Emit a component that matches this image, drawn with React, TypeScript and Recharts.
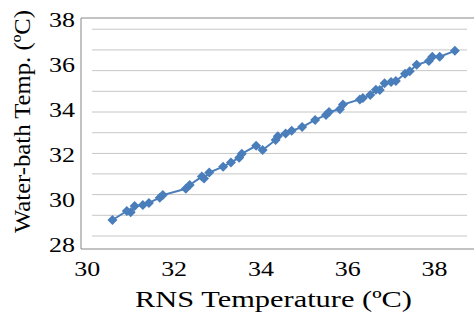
import React from 'react';
import { ComposedChart, Line, XAxis, YAxis, Label } from 'recharts';

const rnsTemp = [30.58, 30.91, 31.0, 31.09, 31.28, 31.42, 31.67, 31.74, 32.27, 32.36, 32.64, 32.69, 32.81, 33.13, 33.31, 33.5, 33.56, 33.89, 34.04, 34.34, 34.39, 34.57, 34.71, 34.95, 35.25, 35.5, 35.57, 35.82, 35.89, 36.28, 36.35, 36.52, 36.65, 36.74, 36.85, 37.0, 37.11, 37.32, 37.43, 37.59, 37.87, 37.95, 38.12, 38.47];
const waterTemp = [29.11, 29.51, 29.45, 29.73, 29.78, 29.87, 30.1, 30.22, 30.5, 30.67, 31.04, 30.96, 31.22, 31.48, 31.67, 31.88, 32.06, 32.41, 32.22, 32.67, 32.83, 32.96, 33.08, 33.24, 33.56, 33.78, 33.91, 34.03, 34.24, 34.47, 34.53, 34.67, 34.9, 34.89, 35.19, 35.24, 35.29, 35.61, 35.72, 36.01, 36.18, 36.37, 36.37, 36.63];
const xTicks = [30, 32, 34, 36, 38];
const yTicks = [28, 30, 32, 34, 36, 38];
const gridValues = [28.4, 29.32, 30.24, 31.16, 32.07, 32.99, 33.91, 34.83, 35.75, 36.67, 37.59];
const gridSpan = [30.11, 38.75];

const xTitle = 'RNS Temperature (ºC)';
const yTitle = 'Water-bath Temp. (ºC)';

const data = rnsTemp.map((x, i) => ({ x, y: waterTemp[i] }));
const gridLines = gridValues.map((g) => gridSpan.map((x) => ({ x, y: g })));

const FONT = "'Liberation Serif', 'DejaVu Serif', serif";
const BLUE = '#4a7ebb';
const AXIS = '#868686';
const X_DOMAIN = [29.855, 39.279];
const Y_DOMAIN = [27.822, 38.089];

const XTick = (props: any) => {
  const { x, payload } = props;
  return (
    <text transform={`translate(${x},275.5) scale(1.18,1)`} textAnchor="middle" fontSize={22} fill="#000" style={{ fontFamily: FONT }}>
      {payload.value}
    </text>
  );
};

const YTick = (props: any) => {
  const { y, payload } = props;
  return (
    <text transform={`translate(75,${y + 7.4}) scale(1.18,1)`} textAnchor="end" fontSize={22} fill="#000" style={{ fontFamily: FONT }}>
      {payload.value}
    </text>
  );
};

const Diamond = (props: any) => {
  const { cx, cy } = props;
  if (cx == null || cy == null) return null;
  const r = 5;
  return <path d={`M${cx},${cy - r} L${cx + r},${cy} L${cx},${cy + r} L${cx - r},${cy} Z`} fill={BLUE} stroke="none" />;
};

export default function App() {
  return (
    <div style={{ position: 'absolute', left: 0, top: 0, width: 474, height: 321, overflow: 'hidden', background: '#fff' }}>
      <ComposedChart width={500} height={321} data={data} margin={{ top: 17, right: 10, bottom: 71, left: 80 }}>
        <XAxis
          xAxisId="main"
          type="number"
          dataKey="x"
          domain={X_DOMAIN}
          allowDataOverflow
          ticks={xTicks}
          tick={<XTick />}
          tickLine={false}
          axisLine={{ stroke: AXIS, strokeWidth: 1 }}
          height={1}
          interval={0}
        >
          <Label
            content={() => (
              <text x={273.5} y={307} textAnchor="middle" fontSize={23} fill="#000" style={{ fontFamily: FONT }} textLength={277} lengthAdjust="spacingAndGlyphs">
                {xTitle}
              </text>
            )}
          />
        </XAxis>
        <XAxis
          xAxisId="top"
          orientation="top"
          type="number"
          domain={X_DOMAIN}
          allowDataOverflow
          tick={false}
          tickLine={false}
          axisLine={{ stroke: AXIS, strokeWidth: 1 }}
          height={1}
        />
        <YAxis
          yAxisId="main"
          type="number"
          domain={Y_DOMAIN}
          allowDataOverflow
          ticks={yTicks}
          tick={<YTick />}
          tickLine={false}
          axisLine={{ stroke: AXIS, strokeWidth: 1 }}
          width={1}
          interval={0}
        >
          <Label
            content={() => (
              <text transform="translate(30,121.5) rotate(-90)" textAnchor="middle" fontSize={23} fill="#000" style={{ fontFamily: FONT }} textLength={223} lengthAdjust="spacingAndGlyphs">
                {yTitle}
              </text>
            )}
          />
        </YAxis>
        {gridLines.map((pts, i) => (
          <Line
            key={`grid-${i}`}
            xAxisId="main"
            yAxisId="main"
            data={pts}
            dataKey="y"
            type="linear"
            stroke="#c6c6c6"
            strokeWidth={1}
            dot={false}
            activeDot={false}
            legendType="none"
            isAnimationActive={false}
          />
        ))}
        <Line
          xAxisId="main"
          yAxisId="main"
          type="linear"
          dataKey="y"
          stroke={BLUE}
          strokeWidth={2}
          dot={<Diamond />}
          activeDot={false}
          isAnimationActive={false}
        />
      </ComposedChart>
    </div>
  );
}
